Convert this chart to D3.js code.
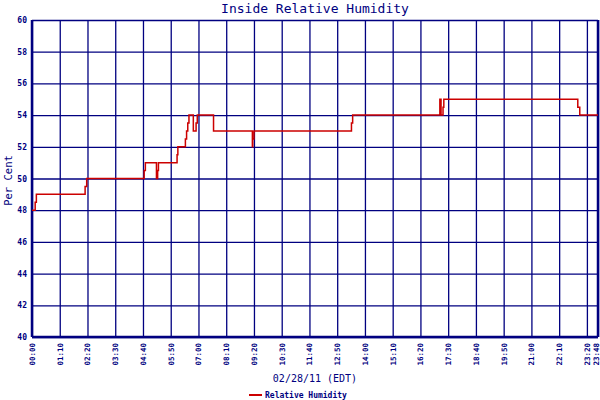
<!DOCTYPE html>
<html>
<head>
<meta charset="utf-8">
<script src="https://cdn.jsdelivr.net/npm/d3@7"></script>
<style>
  body { margin: 0; background: #fff; }
  svg { display: block; }
</style>
</head>
<body>
<div id="chart"></div>
<script>
// readings (HH:MM, per cent) - step changes
const times = ["00:00", "00:08", "00:11", "02:14", "02:18", "04:43", "04:46", "05:14", "05:17", "05:19",
    "06:06", "06:08", "06:27", "06:30", "06:33", "06:36", "06:47", "06:54", "06:57", "07:38",
    "09:16", "09:17", "09:20", "13:26", "13:29", "17:09", "17:12", "17:17", "17:19", "22:57",
    "23:02", "23:48"]
const humidity = [48, 48.5, 49, 49.5, 50, 50.5, 51, 50, 50.5, 51,
    51.5, 52, 52.5, 53, 53.5, 54, 53, 53.5, 54, 53,
    52, 52.5, 53, 53.5, 54, 55, 54, 54.5, 55, 54.5,
    54, 54]
const tickLabels = ["00:00", "01:10", "02:20", "03:30", "04:40", "05:50", "07:00", "08:10", "09:20", "10:30",
    "11:40", "12:50", "14:00", "15:10", "16:20", "17:30", "18:40", "19:50", "21:00", "22:10",
    "23:20", "23:48"]
const yTicks = [40, 42, 44, 46, 48, 50, 52, 54, 56, 58, 60]

const title = "Inside Relative Humidity"
const xTitle = "02/28/11 (EDT)"
const yTitle = "Per Cent"
const seriesName = "Relative Humidity"

const width = 600, height = 400
const margin = { top: 20, right: 2, bottom: 63, left: 32 }
const navy = "#000080", red = "#cc0000"
const mono = "'DejaVu Sans Mono', monospace"

const parse = d3.timeParse("%Y-%m-%d %H:%M")
const toDate = s => parse("2011-02-28 " + s)

const data = times.map((t, i) => ({ date: toDate(t), value: humidity[i] }))
const tickDates = tickLabels.map(toDate)

const svg = d3.select("#chart").append("svg")
    .attr("width", width)
    .attr("height", height)

const x = d3.scaleTime()
    .domain([tickDates[0], tickDates[tickDates.length - 1]])
    .range([margin.left, width - margin.right])

const y = d3.scaleLinear()
    .domain([40, 60])
    .range([height - margin.bottom, margin.top])

// horizontal grid
svg.append("g")
    .attr("transform", `translate(${margin.left}, 0)`)
    .call(d3.axisLeft(y)
        .tickValues(yTicks)
        .tickSize(-(width - margin.left - margin.right))
        .tickPadding(5)
        .tickFormat(d3.format("d")))
    .call(g => g.select(".domain").remove())
    .call(g => g.selectAll("line")
        .attr("stroke", navy)
        .attr("stroke-width", 1.3))
    .call(g => g.selectAll("text")
        .attr("fill", navy)
        .attr("font-family", mono)
        .attr("font-weight", "bold")
        .attr("font-size", 8))

// vertical grid + rotated time labels
const last = tickLabels.length - 1
svg.append("g")
    .attr("transform", `translate(0, ${height - margin.bottom})`)
    .call(d3.axisBottom(x)
        .tickValues(tickDates)
        .tickSize(-(height - margin.top - margin.bottom))
        .tickFormat((d, i) => tickLabels[i]))
    .call(g => g.select(".domain").remove())
    .call(g => g.selectAll("line")
        .attr("stroke", navy)
        .attr("stroke-width", 1.3))
    .call(g => g.selectAll("text")
        .attr("fill", navy)
        .attr("font-family", mono)
        .attr("font-weight", "bold")
        .attr("font-size", 7.5)
        .attr("text-anchor", "end")
        .attr("dy", (d, i) => i === last ? "0.05em" : "0.32em")
        .attr("transform", "rotate(-90)")
        .attr("x", -6)
        .attr("y", 0))

// heavier left and bottom axis lines, right border
svg.append("line")
    .attr("x1", margin.left).attr("x2", margin.left)
    .attr("y1", margin.top).attr("y2", height - margin.bottom)
    .attr("stroke", navy).attr("stroke-width", 2.5)
svg.append("line")
    .attr("x1", margin.left).attr("x2", width - margin.right)
    .attr("y1", height - margin.bottom).attr("y2", height - margin.bottom)
    .attr("stroke", navy).attr("stroke-width", 2.5)
svg.append("line")
    .attr("x1", width - margin.right).attr("x2", width - margin.right)
    .attr("y1", margin.top).attr("y2", height - margin.bottom)
    .attr("stroke", navy).attr("stroke-width", 2.5)

svg.append("path")
    .datum(data)
    .attr("fill", "none")
    .attr("stroke", red)
    .attr("stroke-width", 1.5)
    .attr("d", d3.line()
        .x(d => x(d.date))
        .y(d => y(d.value))
        .curve(d3.curveStepAfter))

const cx = (margin.left + width - margin.right) / 2

svg.append("text")
    .attr("x", cx).attr("y", 13)
    .attr("text-anchor", "middle")
    .attr("fill", navy)
    .attr("font-family", mono)
    .attr("font-size", 13)
    .text(title)

svg.append("text")
    .attr("x", cx).attr("y", 382)
    .attr("text-anchor", "middle")
    .attr("fill", navy)
    .attr("font-family", mono)
    .attr("font-size", 10)
    .text(xTitle)

svg.append("text")
    .attr("transform", `translate(12, ${(margin.top + height - margin.bottom) / 2 + 2}) rotate(-90)`)
    .attr("text-anchor", "middle")
    .attr("fill", navy)
    .attr("font-family", mono)
    .attr("font-size", 10.5)
    .text(yTitle)

// legend
const legend = svg.append("g").attr("transform", "translate(249, 395)")
legend.append("line")
    .attr("x1", 0).attr("x2", 13)
    .attr("stroke", red).attr("stroke-width", 2)
legend.append("text")
    .attr("x", 16).attr("dy", "0.32em")
    .attr("fill", navy)
    .attr("font-family", mono)
    .attr("font-weight", "bold")
    .attr("font-size", 8)
    .text(seriesName)
</script>
</body>
</html>
